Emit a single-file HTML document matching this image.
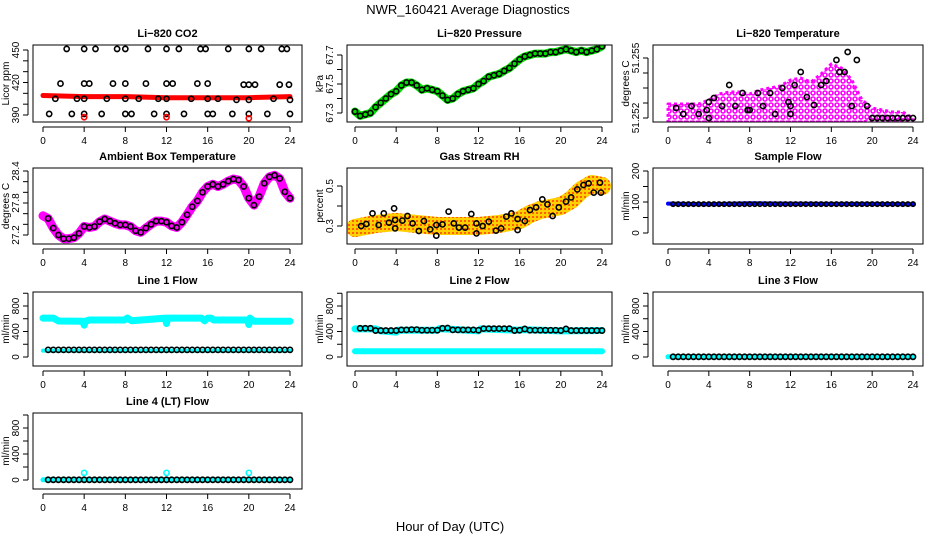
<!DOCTYPE html>
<html><head><meta charset="utf-8">
<style>
html,body{margin:0;padding:0;background:#fff;}
svg{display:block;font-family:"Liberation Sans",Arial,sans-serif;}
</style></head>
<body>
<svg id="chart" width="936" height="540" viewBox="0 0 936 540">
<defs>
<pattern id="magpat" width="6" height="6" patternUnits="userSpaceOnUse">
<circle cx="3" cy="3" r="2" fill="none" stroke="#ff00ff" stroke-width="1.6"/>
</pattern>
<pattern id="rhpat" width="4" height="4" patternUnits="userSpaceOnUse">
<rect width="4" height="4" fill="#ffd000"/>
<rect width="2" height="2" fill="#ff6000"/>
</pattern>
</defs>
<text x="468" y="14" text-anchor="middle" font-size="13">NWR_160421  Average Diagnostics</text>
<text x="450" y="531" text-anchor="middle" font-size="13">Hour of Day (UTC)</text>
</svg>
<script>
// ---------- data ----------
const hourTicks = [0,4,8,12,16,20,24];

const co2Hours = [2.3,4,5.1,7.2,8,10.2,12,13.2,15.3,15.8,18,20,21.2,23.2,23.7, 1.7,4,4.5,6.8,8,10,12,12.6,15,16,19.5,20,20.6,23,23.9, 1.2,3.3,4,6.2,8,9.3,11.2,12,14.4,16,17,18.8,20,22.4,24, 0.6,2.8,4,5.7,8,8.6,10.8,12,13.7,16,16.5,18.4,20,21.8,24];
const co2Means = [451,451,451,451,451,451,451,451,451,451,451,451,451,451,451, 419,419,419,419,419,419,419,419,419,419,418,418,418,418,418, 405,405,405,405,405,405,405,405,405,405,405,404,404,405,404, 391,391,391,391,391,391,391,391,391,391,391,391,391,391,391];
const co2BandHours = [0,4,8,12,16,20,24];
const co2BandVals = [408,407,407,406,406,406,407];
const co2OutHours = [4,12,20];
const co2OutVals = [388,388,387];

const presHours = [0,0.5,1,1.5,2,2.5,3,3.5,4,4.5,5,5.5,6,6.5,7,7.5,8,8.5,9,9.5,10,10.5,11,11.5,12,12.5,13,13.5,14,14.5,15,15.5,16,16.5,17,17.5,18,18.5,19,19.5,20,20.5,21,21.5,22,22.5,23,23.5,24];
const presVals = [67.31,67.28,67.29,67.30,67.34,67.37,67.40,67.43,67.45,67.49,67.51,67.51,67.49,67.46,67.47,67.46,67.45,67.42,67.39,67.40,67.43,67.45,67.46,67.47,67.50,67.52,67.55,67.56,67.57,67.59,67.61,67.64,67.67,67.69,67.70,67.71,67.71,67.71,67.72,67.72,67.73,67.74,67.73,67.72,67.73,67.72,67.73,67.74,67.76];

const tempEnvHours = [0,1,2,3,4,5,6,7,8,9,10,11,12,13,14,15,16,17,18,19,20,21,22,23,24];
const tempUpper = [51.2527,51.2527,51.2527,51.2527,51.2529,51.2532,51.2533,51.2533,51.2532,51.2534,51.2535,51.2536,51.2539,51.2540,51.2538,51.2542,51.2547,51.2545,51.2539,51.2529,51.2525,51.2524,51.2523,51.2523,51.2520];
const tempLower = [51.2518,51.2518,51.2518,51.2518,51.2518,51.2518,51.2518,51.2518,51.2518,51.2518,51.2518,51.2518,51.2518,51.2518,51.2518,51.2518,51.2518,51.2518,51.2518,51.2518,51.2519,51.2519,51.2519,51.2519,51.2519];
const tempHours = [0.8,1.5,2.3,3,3.8,4,4,4.5,5.3,6,6.6,7.3,7.8,8,8.8,9.3,10,10.5,11.2,11.8,12,12,12.4,13,13.6,14.3,15,15.5,16.5,16.8,17.3,17.6,18.5,18,19.5,20,20.5,21,21.5,22,22.5,23,23.5,24];
const tempVals = [51.2525,51.2522,51.2526,51.2522,51.2524,51.2528,51.2520,51.2530,51.2526,51.25365,51.2526,51.25325,51.2524,51.2524,51.25325,51.2526,51.25325,51.2522,51.2535,51.2528,51.2526,51.2522,51.25365,51.2543,51.25305,51.25265,51.25365,51.25385,51.2549,51.2543,51.2543,51.2553,51.2549,51.2526,51.2526,51.2520,51.2520,51.2520,51.2520,51.2520,51.2520,51.2520,51.2520,51.2520];

const ambHours = presHours;
const ambVals = [27.56,27.51,27.33,27.20,27.13,27.13,27.15,27.23,27.36,27.34,27.36,27.45,27.50,27.46,27.42,27.39,27.39,27.36,27.28,27.25,27.33,27.40,27.46,27.46,27.44,27.37,27.34,27.44,27.58,27.73,27.84,28.00,28.11,28.15,28.11,28.15,28.21,28.25,28.23,28.11,27.89,27.76,27.92,28.17,28.29,28.32,28.26,28.01,27.89];

const rhBandHours = [0,2,4,6,8,10,12,14,16,17,18,19,20,21,22,23,24];
const rhBandVals = [0.29,0.31,0.32,0.31,0.30,0.30,0.30,0.31,0.33,0.36,0.38,0.39,0.40,0.43,0.48,0.51,0.50];
const rhHours = [0.6,1.1,1.7,2.3,2.8,3.3,3.8,3.9,3.9,4.6,5.1,5.6,6.2,6.7,7.3,7.9,7.9,8.5,9.1,9.6,10.1,10.7,11.3,11.8,11.8,12.4,13,13.7,14.2,14.7,15.2,15.8,15.8,16.5,17,17.6,18.2,18.7,19.2,19.8,20.5,21,21.6,22.2,22.7,23.2,23.8,23.9];
const rhVals = [0.30,0.31,0.363,0.305,0.363,0.317,0.388,0.33,0.288,0.327,0.35,0.313,0.275,0.325,0.283,0.305,0.252,0.308,0.372,0.313,0.292,0.292,0.36,0.313,0.263,0.30,0.322,0.277,0.288,0.347,0.363,0.335,0.28,0.325,0.38,0.393,0.433,0.408,0.35,0.393,0.422,0.443,0.483,0.505,0.513,0.467,0.517,0.467];

const flowHours = [0.5,1,1.5,2,2.5,3,3.5,4,4.5,5,5.5,6,6.5,7,7.5,8,8.5,9,9.5,10,10.5,11,11.5,12,12.5,13,13.5,14,14.5,15,15.5,16,16.5,17,17.5,18,18.5,19,19.5,20,20.5,21,21.5,22,22.5,23,23.5,24];
const sampleBandHours = [0,4,8,12,16,20,24];
const sampleBandVals = [95,93,96,95,94,94,93];
const sampleMean = 93;

const line1CyanHours = [0,1,1.5,3.9,4,4.1,4.5,7.9,8.2,8.6,11.9,12,12.1,15.4,15.7,16,16.3,16.6,19.9,20,20.1,20.5,24];
const line1CyanVals = [610,610,565,560,500,560,580,580,610,570,610,525,610,610,570,610,610,580,580,510,610,560,560];
const line1LowCyan = 100;
const line1Mean = 112;

const line2CyanHours = [0,2,2.5,4,4.1,8,8.2,12,12.2,16,16.2,20,24];
const line2CyanVals = [440,440,410,390,420,420,445,410,440,420,430,410,415];
const line2MeanHours = [0.5,1,1.5,2,2.5,3,3.5,4,4.5,5,5.5,6,6.5,7,7.5,8,8.5,9,9.5,10,10.5,11,11.5,12,12.5,13,13.5,14,14.5,15,15.5,16,16.5,17,17.5,18,18.5,19,19.5,20,20.5,21,21.5,22,22.5,23,23.5,24];
const line2Means = [450,450,450,415,415,415,415,415,425,425,430,430,420,420,420,420,450,455,425,425,425,425,425,420,445,445,445,445,445,445,415,420,440,420,420,420,420,420,420,415,440,415,415,415,415,415,415,415];
const line2LowCyan = 90;

const line3Mean = 3;
const line4Mean = 3;
const line4OutHours = [4,12,20];
const line4OutVals = [110,110,110];

// ---------- helpers ----------
const svg = document.getElementById('chart');
const NS = 'http://www.w3.org/2000/svg';
function mk(tag, attrs, parent){
  const e = document.createElementNS(NS, tag);
  for (const k in attrs) e.setAttribute(k, attrs[k]);
  (parent||svg).appendChild(e);
  return e;
}
const cols = [{bx0:33,bx1:302,x0:43,x1:290},{bx0:347,bx1:612,x0:355,x1:602},{bx0:653,bx1:923,x0:668,x1:913}];
const rows = [{by0:45,by1:122},{by0:168,by1:244},{by0:292,by1:366},{by0:413,by1:489}];

function panel(name, title, c, r, v0, p0, v1, p1, ticks, labels, ylab){
  const C = cols[c], R = rows[r];
  const g = mk('g', {});
  
  
  const sx = h => C.x0 + (C.x1 - C.x0) * h / 24;
  const sy = v => p0 + (p1 - p0) * (v - v0) / (v1 - v0);
  const clipId = name + '-clip';
  const cp = mk('clipPath', {id: clipId}, g);
  mk('rect', {x:C.bx0, y:R.by0, width:C.bx1-C.bx0, height:R.by1-R.by0}, cp);
  const plot = mk('g', {'clip-path':'url(#'+clipId+')'}, g);
  
  
  const t = mk('text', {x:(C.bx0+C.bx1)/2, y:R.by0-8, 'text-anchor':'middle', 'font-size':'11', 'font-weight':'bold'}, g);
  t.textContent = title;
  
  
  const xa = mk('g', {}, g);
  
  
  mk('line', {x1:sx(0), x2:sx(24), y1:R.by1+5, y2:R.by1+5, stroke:'#000', 'stroke-width':1}, xa);
  hourTicks.forEach(h => {
    mk('line', {x1:sx(h), x2:sx(h), y1:R.by1+5, y2:R.by1+10, stroke:'#000'}, xa);
    const tl = mk('text', {x:sx(h), y:R.by1+22, 'text-anchor':'middle', 'font-size':'10'}, xa);
    tl.textContent = h;
    
    
  });
  const ya = mk('g', {}, g);
  
  
  mk('line', {x1:C.bx0-5, x2:C.bx0-5, y1:sy(ticks[0]), y2:sy(ticks[ticks.length-1]), stroke:'#000'}, ya);
  ticks.forEach((v,i) => {
    mk('line', {x1:C.bx0-10, x2:C.bx0-5, y1:sy(v), y2:sy(v), stroke:'#000'}, ya);
    if (labels[i] !== '') {
      const yl = mk('text', {x:0, y:0, 'text-anchor':'middle', 'font-size':'10', transform:'translate('+(C.bx0-14)+','+sy(v)+') rotate(-90)'}, ya);
      yl.textContent = labels[i];
      
      
    }
  });
  const yt = mk('text', {x:0, y:0, 'text-anchor':'middle', 'font-size':'10', transform:'translate('+(C.bx0-24)+','+((R.by0+R.by1)/2)+') rotate(-90)'}, g);
  yt.textContent = ylab;
  
  
  return {g, plot, sx, sy, box(){ const b = mk('rect', {x:C.bx0, y:R.by0, width:C.bx1-C.bx0, height:R.by1-R.by0, fill:'none', stroke:'#000', 'stroke-width':1}, g);   }};
}
function band(P, hours, vals, color, width, name){
  const pts = hours.map((h,i) => P.sx(h).toFixed(1)+','+P.sy(vals[i]).toFixed(1)).join(' ');
  const l = mk('polyline', {points:pts, fill:'none', stroke:color, 'stroke-width':width, 'stroke-linejoin':'round', 'stroke-linecap':'round'}, P.plot);
  
  
}
function area(P, hours, up, lo, color, name){
  const a = hours.map((h,i) => P.sx(h).toFixed(1)+','+P.sy(up[i]).toFixed(1));
  const b = hours.map((h,i) => P.sx(h).toFixed(1)+','+P.sy(lo[i]).toFixed(1)).reverse();
  const p = mk('polygon', {points:a.concat(b).join(' '), fill:color, stroke:'#ff00ff', 'stroke-width':3, 'stroke-dasharray':'3 3', 'stroke-linejoin':'round'}, P.plot);
  
  
}
function points(P, hours, vals, color, name, r){
  hours.forEach((h,i) => {
    const c = mk('circle', {cx:P.sx(h), cy:P.sy(vals[i]), r:r||2.6, fill:'none', stroke:color, 'stroke-width':1.6}, P.plot);
    
    
  });
}
const constArr = (n, v) => Array(n).fill(v);
function range(a,b,s){const o=[];for(let v=a;v<=b+1e-9;v+=s)o.push(+v.toFixed(6));return o;}

// ---------- panels ----------
let P;
P = panel('co2-panel','Li\u2212820 CO2',0,0,390,115,450,50,range(390,450,10),['390','','','420','','','450'],'Licor ppm');
band(P, co2BandHours, co2BandVals, '#ff0000', 5, 'co2-band');
points(P, co2Hours, co2Means, '#000', 'co2-point');
points(P, co2OutHours, co2OutVals, '#ff0000', 'co2-outlier');
P.box();

P = panel('pressure-panel','Li\u2212820 Pressure',1,0,67.3,113,67.7,55,range(67.3,67.7,0.1),['67.3','','67.5','','67.7'],'kPa');
band(P, presHours, presVals, '#00e000', 8, 'pressure-band');
points(P, presHours, presVals, '#000', 'pressure-point');
P.box();

P = panel('temperature-panel','Li\u2212820 Temperature',2,0,51.252,118,51.255,58,[51.252,51.25275,51.2535,51.25425,51.255],['51.252','','','','51.255'],'degrees C');
area(P, tempEnvHours, tempUpper, tempLower, 'url(#magpat)', 'temperature-band');
points(P, tempHours, tempVals, '#000', 'temperature-point');
P.box();

P = panel('ambient-panel','Ambient Box Temperature',0,1,27.2,235,28.4,171,range(27.2,28.4,0.2),['27.2','','','27.8','','','28.4'],'degrees C');
band(P, ambHours, ambVals, '#ff00ff', 9, 'ambient-band');
points(P, ambHours.slice(1), ambVals.slice(1), '#000', 'ambient-point');
P.box();

P = panel('rh-panel','Gas Stream RH',1,1,0.3,226,0.5,186,[0.3,0.4,0.5],['0.3','','0.5'],'percent');
band(P, rhBandHours, rhBandVals, 'url(#rhpat)', 18, 'rh-band');
points(P, rhHours, rhVals, '#000', 'rh-point');
P.box();

P = panel('sample-flow-panel','Sample Flow',2,1,0,233,200,171,range(0,200,50),['0','','100','','200'],'ml/min');
band(P, sampleBandHours, sampleBandVals, '#0000ff', 4, 'sample-flow-band');
points(P, flowHours, constArr(flowHours.length, sampleMean), '#000', 'sample-flow-point', 2.2);
P.box();

P = panel('line1-flow-panel','Line 1 Flow',0,2,0,357,800,306,range(0,1000,200),['0','','400','','800',''],'ml/min');
band(P, line1CyanHours, line1CyanVals, '#00ffff', 7, 'line1-cyan-band');
band(P, [0,24], [line1LowCyan,line1LowCyan], '#00ffff', 4, 'line1-cyan-low');
points(P, flowHours, constArr(flowHours.length, line1Mean), '#000', 'line1-point');
P.box();

P = panel('line2-flow-panel','Line 2 Flow',1,2,0,357,800,306,range(0,1000,200),['0','','400','','800',''],'ml/min');
band(P, line2CyanHours, line2CyanVals, '#00ffff', 7, 'line2-cyan-band');
band(P, [0,24], [line2LowCyan,line2LowCyan], '#00ffff', 6, 'line2-cyan-low');
points(P, line2MeanHours, line2Means, '#000', 'line2-point');
P.box();

P = panel('line3-flow-panel','Line 3 Flow',2,2,0,357,800,306,range(0,1000,200),['0','','400','','800',''],'ml/min');
band(P, [0,24], [line3Mean,line3Mean], '#00ffff', 5, 'line3-cyan-band');
points(P, flowHours, constArr(flowHours.length, line3Mean), '#000', 'line3-point');
P.box();

P = panel('line4-flow-panel','Line 4 (LT) Flow',0,3,0,480,800,428,range(0,1000,200),['0','','400','','800',''],'ml/min');
band(P, [0,24], [line4Mean,line4Mean], '#00ffff', 5, 'line4-cyan-band');
points(P, line4OutHours, line4OutVals, '#00ffff', 'line4-outlier');
points(P, flowHours, constArr(flowHours.length, line4Mean), '#000', 'line4-point');
P.box();
</script>
</body></html>
